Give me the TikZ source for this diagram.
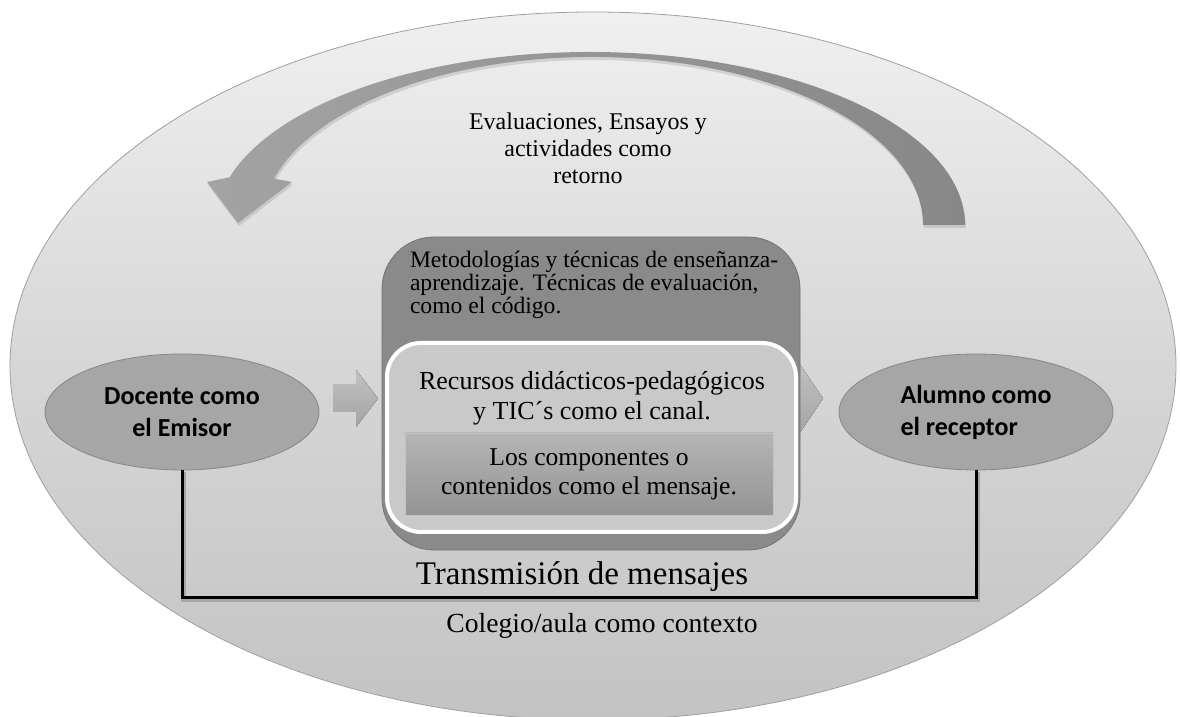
\documentclass[tikz,border=0pt]{standalone}
\usepackage{fontspec}
\setmainfont{Liberation Serif}
\newfontfamily\calibri{Carlito}
\usetikzlibrary{
	arrows.meta,
	calc,
	positioning,
	shadows,
	shapes.geometric
}
\tikzset{
	FC-Text/.style={align=center,inner sep=0pt,font=\fontsize{12}{13.5}\selectfont},
	FC-Oval/.style={ellipse,draw=black!47,fill=black!35,align=center,minimum width=137pt,minimum height=58pt,inner sep=0pt,font=\calibri\bfseries\fontsize{13}{16}\selectfont},
	FC-Chevron/.style={top color=black!24,bottom color=black!36,draw=none},
	Wire/.style={line width=1.5pt,line join=miter,
		preaction={draw,black!35,line width=2.5pt,transform canvas={shift={(0.8pt,-0.8pt)}}}}
}

\begin{document}
\begin{tikzpicture}[x=0.5pt,y=0.5pt,
	CodeBox/.style={rectangle,rounded corners=26pt,draw=black!55,fill=black!46,minimum width=209pt,minimum height=156.5pt},
	ChannelBox/.style={rectangle,rounded corners=17pt,draw=white,line width=2pt,fill=black!21,minimum width=204.5pt,minimum height=94.5pt},
	MsgBox/.style={rectangle,draw=black!24,top color=black!29,bottom color=black!42,minimum width=184pt,minimum height=41pt,
		align=center,font=\fontsize{12.8}{14.5}\selectfont}]
	\useasboundingbox (0,0) rectangle (1180,717);
	% context
	\draw[gray!75,top color=gray!12,bottom color=gray!47,middle color=gray!32] (593,351) ellipse [x radius=583,y radius=354];
	% feedback arrow
	\draw[draw=none,left color=black!36,right color=black!47,drop shadow={opacity=0.25,shadow xshift=0.5pt,shadow yshift=-1.5pt}]
		(965,492) arc [start angle=0,end angle=164,x radius=375,y radius=173]
		-- (207,535) -- (238,494) -- (292,535) -- (273.8,538.3)
		arc [start angle=164,end angle=0,x radius=331,y radius=168] -- cycle;
	\node[FC-Text] (node_retorno) at (588,569) {Evaluaciones, Ensayos y\\actividades como\\retorno};
	% chevrons
	\fill[FC-Chevron] (333,305) -- (356,305) -- (356,290) -- (378,318.5) -- (356,347) -- (356,332) -- (333,332) -- cycle;
	\fill[FC-Chevron] (755,305) -- (795,305) -- (795,277) -- (823,318.5) -- (795,360) -- (795,332) -- (755,332) -- cycle;
	\node[CodeBox] (node_codigo) at (591,323.5) {};
	\node[FC-Text,align=left,anchor=north west,font=\fontsize{11.8}{11.5}\selectfont] (txt_codigo)
		at ($(node_codigo.north west)+(28,-14)$) {Metodologías y técnicas de enseñanza-\\aprendizaje. Técnicas de evaluación,\\como el código.};
	\node[ChannelBox] (node_canal) at (591.5,279.5) {};
	\node[FC-Text,font=\fontsize{13}{15}\selectfont] (txt_canal) at (592,319) {Recursos didácticos-pedagógicos\\y TIC´s como el canal.};
	\node[MsgBox] (node_mensaje) at (589,243) {Los componentes o\\contenidos como el mensaje.};
	\node[FC-Oval] (node_docente) at (182,305) {Docente como\\el Emisor};
	\node[FC-Oval,align=left] (node_alumno) at (976,305) {Alumno como\\el receptor};
	\coordinate (line_bottom) at (0,119);
	\draw[Wire] (node_docente.south) -- (node_docente.south |- line_bottom) -- (node_alumno.south |- line_bottom) -- (node_alumno.south);
	\node[FC-Text,font=\fontsize{16.5}{18}\selectfont] (node_transm) at (582,140) {Transmisión de mensajes};
	\node[FC-Text,font=\fontsize{13.8}{15}\selectfont] (node_contexto) at (602,91) {Colegio/aula como contexto};
\end{tikzpicture}
\end{document}
